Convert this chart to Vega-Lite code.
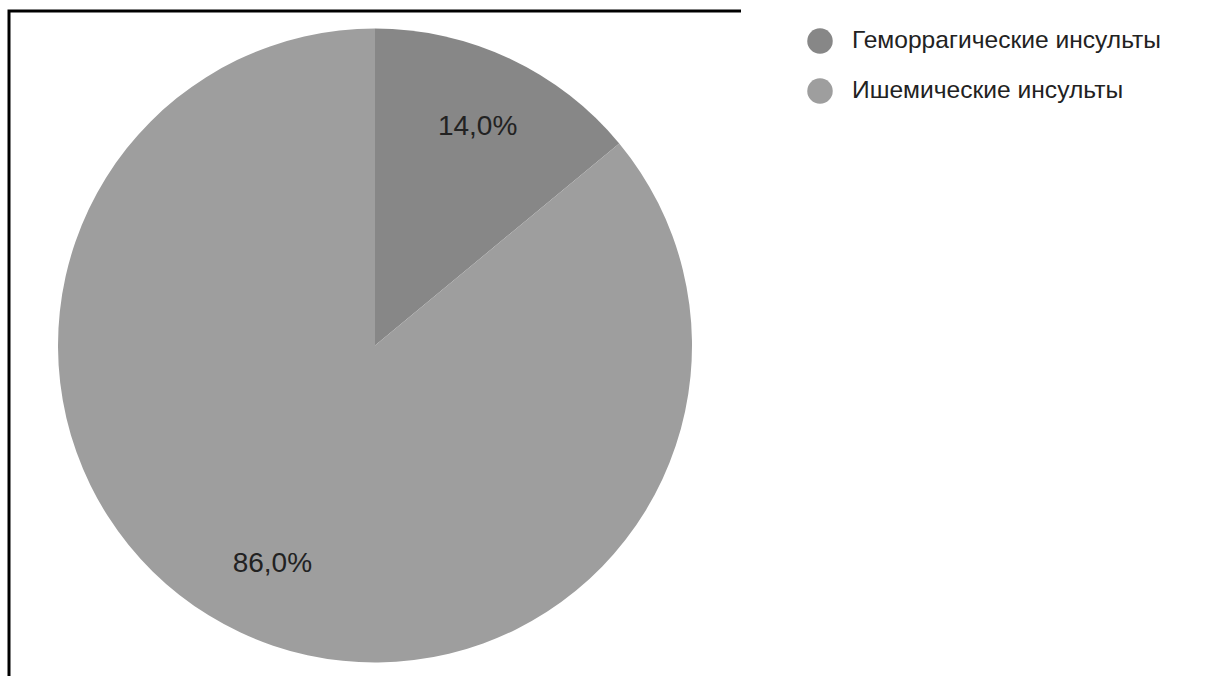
{
  "$schema": "https://vega.github.io/schema/vega-lite/v6.json",
  "width": 732,
  "height": 669,
  "padding": {"left": 9, "top": 11, "right": 0, "bottom": 0},
  "background": "white",
  "view": {"stroke": "black", "strokeWidth": 3, "strokeDash": [732, 1401, 680]},
  "config": {
    "view": {"stroke": "black", "strokeWidth": 3, "strokeDash": [732, 1401, 680]},
    "font": "Liberation Sans"
  },
  "data": {
    "values": [
      {"type": "Геморрагические инсульты", "value": 14, "label": "14,0%"},
      {"type": "Ишемические инсульты", "value": 86, "label": "86,0%"}
    ]
  },
  "encoding": {
    "theta": {"field": "value", "type": "quantitative", "stack": true},
    "order": {"field": "value", "sort": "ascending"}
  },
  "layer": [
    {
      "mark": {"type": "arc", "radius": 317},
      "encoding": {
        "color": {
          "field": "type",
          "type": "nominal",
          "scale": {"domain": ["Геморрагические инсульты", "Ишемические инсульты"], "range": ["#878787", "#9e9e9e"]},
          "legend": {
            "orient": "none",
            "legendX": 798,
            "legendY": 17,
            "title": null,
            "labelFontSize": 24.6,
            "labelFont": "Liberation Sans",
            "labelColor": "#222222",
            "labelLimit": 0,
            "symbolType": "circle",
            "symbolSize": 650,
            "symbolStrokeWidth": 0,
            "symbolOpacity": 1,
            "rowPadding": 24,
            "labelOffset": 19,
            "padding": 0
          }
        }
      }
    },
    {
      "mark": {"type": "text", "radius": 241, "fontSize": 28, "font": "Liberation Sans", "color": "#222222", "align": "center", "baseline": "middle"},
      "encoding": {"text": {"field": "label"}}
    }
  ]
}
